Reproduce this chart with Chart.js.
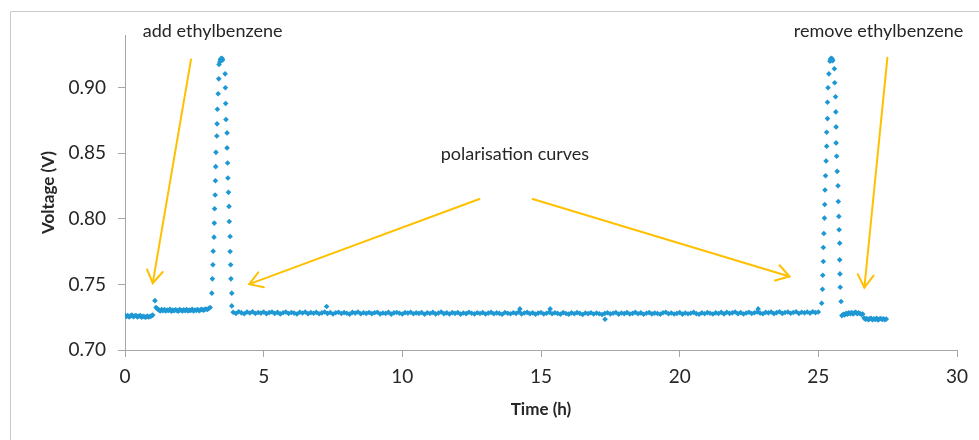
<!DOCTYPE html>
<html><head><meta charset="utf-8">
<script src="https://cdn.jsdelivr.net/npm/chart.js@4/dist/chart.umd.min.js"></script>
<style>html,body{margin:0;padding:0;background:#fff;overflow:hidden}canvas{display:block}</style>
</head><body>
<canvas id="c" width="979" height="440"></canvas>
<script>
// ---------- DATA (time in h, voltage in V) ----------
// baseline before ethylbenzene, sampled every 0.05 h from 0.00 h
const segA_start = 0.00, segA_step = 0.05;
const segA_volt = [0.7264,0.7255,0.7262,0.7252,0.7260,0.7266,0.7254,0.7259,0.7263,0.7251,0.7258,0.7262,0.7250,0.7257,0.7253,0.7249,0.7258,0.7251,0.7255,0.7260,0.7266];
// spike when ethylbenzene is added
const spike_time = [1.08];
const spike_volt = [0.7376];
// baseline with ethylbenzene, every 0.05 h from 1.12 h
const segB_start = 1.12, segB_step = 0.05;
const segB_volt = [0.7324,0.7313,0.7306,0.7298,0.7308,0.7300,0.7309,0.7297,0.7305,0.7301,
  0.7310,0.7296,0.7304,0.7299,0.7307,0.7302,0.7296,0.7308,0.7303,0.7298,
  0.7306,0.7300,0.7309,0.7297,0.7304,0.7301,0.7310,0.7298,0.7305,0.7302,
  0.7309,0.7299,0.7306,0.7311,0.7303,0.7308,0.7312,0.7309,0.7316,0.7324];
// first polarisation curve
const pol1_time = [3.13,3.15,3.17,3.18,3.21,3.22,3.23,3.25,3.26,3.27,3.28,3.31,3.32,3.33,3.36,3.38,3.39,
  3.42,3.44,3.46,3.48,3.50,3.52,
  3.61,3.62,3.63,3.64,3.68,3.68,3.70,3.71,3.73,3.75,3.76,3.79,3.79,3.81,3.82,3.85,3.85];
const pol1_volt = [0.7433,0.7542,0.7649,0.7753,0.7860,0.7967,0.8076,0.8181,0.8290,0.8397,0.8506,0.8631,0.8723,0.8834,0.8952,0.9066,0.9176,
  0.9195,0.9212,0.9220,0.9215,0.9222,0.9210,
  0.9104,0.8998,0.8878,0.8756,0.8654,0.8540,0.8425,0.8311,0.8201,0.8094,0.7979,0.7865,0.7750,0.7649,0.7542,0.7433,0.7336];
// long baseline, every 0.1 h from 3.9 h
const segC_start = 3.9, segC_step = 0.1;
const segC_volt = [
  0.7288,0.7279,0.7291,0.7283,0.7276,0.7289,0.7282,0.7292,0.7278,0.7286,
  0.7281,0.7290,0.7277,0.7285,0.7289,0.7279,0.7287,0.7275,0.7284,0.7290,
  0.7278,0.7286,0.7281,0.7274,0.7288,0.7282,0.7290,0.7277,0.7285,0.7280,
  0.7287,0.7276,0.7283,0.7289,0.7279,0.7286,0.7274,0.7284,0.7288,0.7278,
  0.7285,0.7280,0.7273,0.7287,0.7281,0.7289,0.7276,0.7284,0.7279,0.7286,
  0.7277,0.7284,0.7288,0.7275,0.7282,0.7279,0.7287,0.7273,0.7283,0.7286,
  0.7280,0.7274,0.7285,0.7281,0.7288,0.7276,0.7283,0.7279,0.7286,0.7272,
  0.7284,0.7278,0.7287,0.7275,0.7281,0.7289,0.7277,0.7283,0.7274,0.7285,
  0.7279,0.7286,0.7273,0.7282,0.7277,0.7288,0.7280,0.7275,0.7284,0.7278,
  0.7285,0.7274,0.7281,0.7287,0.7276,0.7283,0.7279,0.7272,0.7286,0.7280,
  0.7276,0.7284,0.7279,0.7290,0.7275,0.7282,0.7287,0.7277,0.7283,0.7273,
  0.7281,0.7286,0.7274,0.7280,0.7288,0.7276,0.7284,0.7279,0.7272,0.7285,
  0.7278,0.7273,0.7283,0.7276,0.7285,0.7279,0.7271,0.7282,0.7277,0.7284,
  0.7274,0.7281,0.7276,0.7270,0.7279,0.7284,0.7275,0.7280,0.7286,0.7273,
  0.7282,0.7277,0.7285,0.7274,0.7279,0.7287,0.7276,0.7283,0.7272,0.7280,
  0.7285,0.7275,0.7281,0.7278,0.7273,0.7284,0.7288,0.7276,0.7282,0.7274,
  0.7279,0.7286,0.7273,0.7282,0.7276,0.7280,0.7287,0.7277,0.7272,0.7283,
  0.7276,0.7285,0.7280,0.7274,0.7283,0.7278,0.7287,0.7275,0.7288,0.7279,
  0.7283,0.7289,0.7277,0.7285,0.7274,0.7282,0.7288,0.7278,0.7284,0.7290,
  0.7281,0.7276,0.7287,0.7283,0.7290,0.7277,0.7285,0.7291,0.7279,0.7286,
  0.7289,0.7280,0.7286,0.7292,0.7278,0.7288,0.7283,0.7290,0.7281,0.7291,
  0.7285,0.7289];
// isolated readings off the long baseline
const outl_time = [7.27,14.24,15.33,17.31,22.83];
const outl_volt = [0.7331,0.7313,0.7313,0.7234,0.7313];
// second polarisation curve
const pol2_time = [25.12,25.15,25.16,25.18,25.18,25.20,25.22,25.23,25.24,25.26,25.28,25.30,25.30,25.33,25.33,25.35,25.38,
  25.42,25.44,25.46,25.48,25.50,25.52,
  25.58,25.59,25.62,25.63,25.64,25.64,25.66,25.68,25.71,25.72,25.74,25.75,25.77,25.77,25.78,25.79,25.82];
const pol2_volt = [0.7356,0.7463,0.7570,0.7674,0.7781,0.7888,0.8005,0.8109,0.8219,0.8328,0.8440,0.8552,0.8659,0.8763,0.8888,0.8998,0.9104,
  0.9200,0.9215,0.9222,0.9210,0.9218,0.9205,
  0.9143,0.9036,0.8929,0.8814,0.8700,0.8578,0.8476,0.8361,0.8252,0.8132,0.8018,0.7916,0.7814,0.7687,0.7580,0.7478,0.7369];
// baseline after second curve, every 0.05 h from 25.85 h
const segD_start = 25.85, segD_step = 0.05;
const segD_volt = [0.7262,0.7272,0.7268,0.7279,0.7273,0.7284,0.7277,0.7286,0.7275,0.7283,0.7288,0.7276,0.7284,0.7278,0.7270,0.7274];
// baseline after ethylbenzene removed, every 0.05 h from 26.65 h
const segE_start = 26.65, segE_step = 0.05;
const segE_volt = [0.7243,0.7234,0.7240,0.7230,0.7237,0.7242,0.7231,0.7238,0.7233,0.7241,0.7229,0.7236,0.7240,0.7232,0.7238,0.7230,0.7236];

// axis ticks
const xTicks = [0,5,10,15,20,25,30];
const yTicks = [0.70,0.75,0.80,0.85,0.90];

// annotations (anchored in data units)
const noteTexts = ['add ethylbenzene','polarisation curves','remove ethylbenzene'];
const noteTime  = [3.16, 14.06, 27.17];
const noteVolt  = [0.9427, 0.8489, 0.9427];
const arrowFromT = [2.38, 12.78, 14.70, 27.49];
const arrowFromV = [0.9214, 0.8150, 0.8150, 0.9227];
const arrowToT   = [1.00, 4.48, 23.96, 26.66];
const arrowToV   = [0.7509, 0.7502, 0.7560, 0.7476];

// ---------- build ----------
const grid = (t0, dt, vals) => vals.map((v,i) => ({x: +(t0 + i*dt).toFixed(3), y: v}));
const pairs = (ts, vs) => ts.map((t,i) => ({x: t, y: vs[i]}));
const points = [].concat(
  grid(segA_start, segA_step, segA_volt),
  pairs(spike_time, spike_volt),
  grid(segB_start, segB_step, segB_volt),
  pairs(pol1_time, pol1_volt),
  grid(segC_start, segC_step, segC_volt),
  pairs(outl_time, outl_volt),
  pairs(pol2_time, pol2_volt),
  grid(segD_start, segD_step, segD_volt),
  grid(segE_start, segE_step, segE_volt)
);

const FONT = 'Lato, "Open Sans", sans-serif';
const AXIS = '#A6A6A6';
const TXT = '#262626';

const decor = {
  id: 'decor',
  beforeDraw(chart) {
    const ctx = chart.ctx;
    ctx.save();
    ctx.strokeStyle = '#C9C9C9';
    ctx.lineWidth = 1;
    ctx.beginPath();
    ctx.moveTo(10.5, 440); ctx.lineTo(10.5, 11.5); ctx.lineTo(979, 11.5);
    ctx.stroke();
    ctx.restore();
  },
  afterDatasetsDraw(chart) {
    const ctx = chart.ctx, xs = chart.scales.x, ys = chart.scales.y;
    ctx.save();
    ctx.strokeStyle = '#FFC000';
    ctx.lineWidth = 2;
    ctx.lineCap = 'round';
    for (let i = 0; i < arrowFromT.length; i++) {
      const x1 = xs.getPixelForValue(arrowFromT[i]), y1 = ys.getPixelForValue(arrowFromV[i]);
      const x2 = xs.getPixelForValue(arrowToT[i]), y2 = ys.getPixelForValue(arrowToV[i]);
      ctx.beginPath(); ctx.moveTo(x1, y1); ctx.lineTo(x2, y2); ctx.stroke();
      const a = Math.atan2(y1 - y2, x1 - x2), L = 15, s = 32 * Math.PI / 180;
      ctx.beginPath();
      ctx.moveTo(x2 + L*Math.cos(a - s), y2 + L*Math.sin(a - s));
      ctx.lineTo(x2, y2);
      ctx.lineTo(x2 + L*Math.cos(a + s), y2 + L*Math.sin(a + s));
      ctx.stroke();
    }
    ctx.fillStyle = TXT;
    ctx.font = '18px ' + FONT;
    ctx.textAlign = 'center';
    ctx.textBaseline = 'middle';
    for (let i = 0; i < noteTexts.length; i++) {
      ctx.fillText(noteTexts[i], xs.getPixelForValue(noteTime[i]), ys.getPixelForValue(noteVolt[i]));
    }
    ctx.restore();
  }
};

function draw() {
  new Chart(document.getElementById('c'), {
    type: 'scatter',
    data: { datasets: [{
      data: points,
      pointStyle: 'rectRot',
      pointRadius: 2.8,
      pointBorderWidth: 0,
      backgroundColor: '#1E98D4',
      borderColor: '#1E98D4'
    }]},
    options: {
      responsive: false,
      animation: false,
      devicePixelRatio: 1,
      layout: { padding: { left: 0, right: 22, top: 35, bottom: 0 } },
      plugins: { legend: { display: false }, tooltip: { enabled: false } },
      scales: {
        x: {
          type: 'linear', min: 0, max: 30,
          afterBuildTicks: s => { s.ticks = xTicks.map(v => ({value: v})); },
          afterFit: s => { s.height = 90; },
          ticks: { font: { family: FONT, size: 19 }, color: TXT, padding: 8 },
          grid: { drawOnChartArea: false, drawTicks: true, tickLength: 7, color: AXIS },
          border: { color: AXIS, width: 1 },
          title: { display: true, text: 'Time (h)', color: TXT,
            font: { family: FONT, size: 17, weight: 'bold' }, padding: { top: 0, bottom: 20 } }
        },
        y: {
          type: 'linear', min: 0.70, max: 0.94,
          afterBuildTicks: s => { s.ticks = yTicks.map(v => ({value: v})); },
          afterFit: s => { s.width = 125; },
          ticks: { font: { family: FONT, size: 19 }, color: TXT, padding: 12,
            callback: v => Number(v).toFixed(2) },
          grid: { drawOnChartArea: false, drawTicks: true, tickLength: 7, color: AXIS },
          border: { color: AXIS, width: 1 },
          title: { display: true, text: 'Voltage (V)', color: TXT,
            font: { family: FONT, size: 17, weight: 'bold' }, padding: { top: 38, bottom: 0 } }
        }
      }
    },
    plugins: [decor]
  });
}
if (document.fonts && document.fonts.load) {
  Promise.all([document.fonts.load('19px Lato'), document.fonts.load('bold 17px Lato'), document.fonts.load('18px Lato')]).then(draw, draw);
} else { draw(); }
</script>
</body></html>
